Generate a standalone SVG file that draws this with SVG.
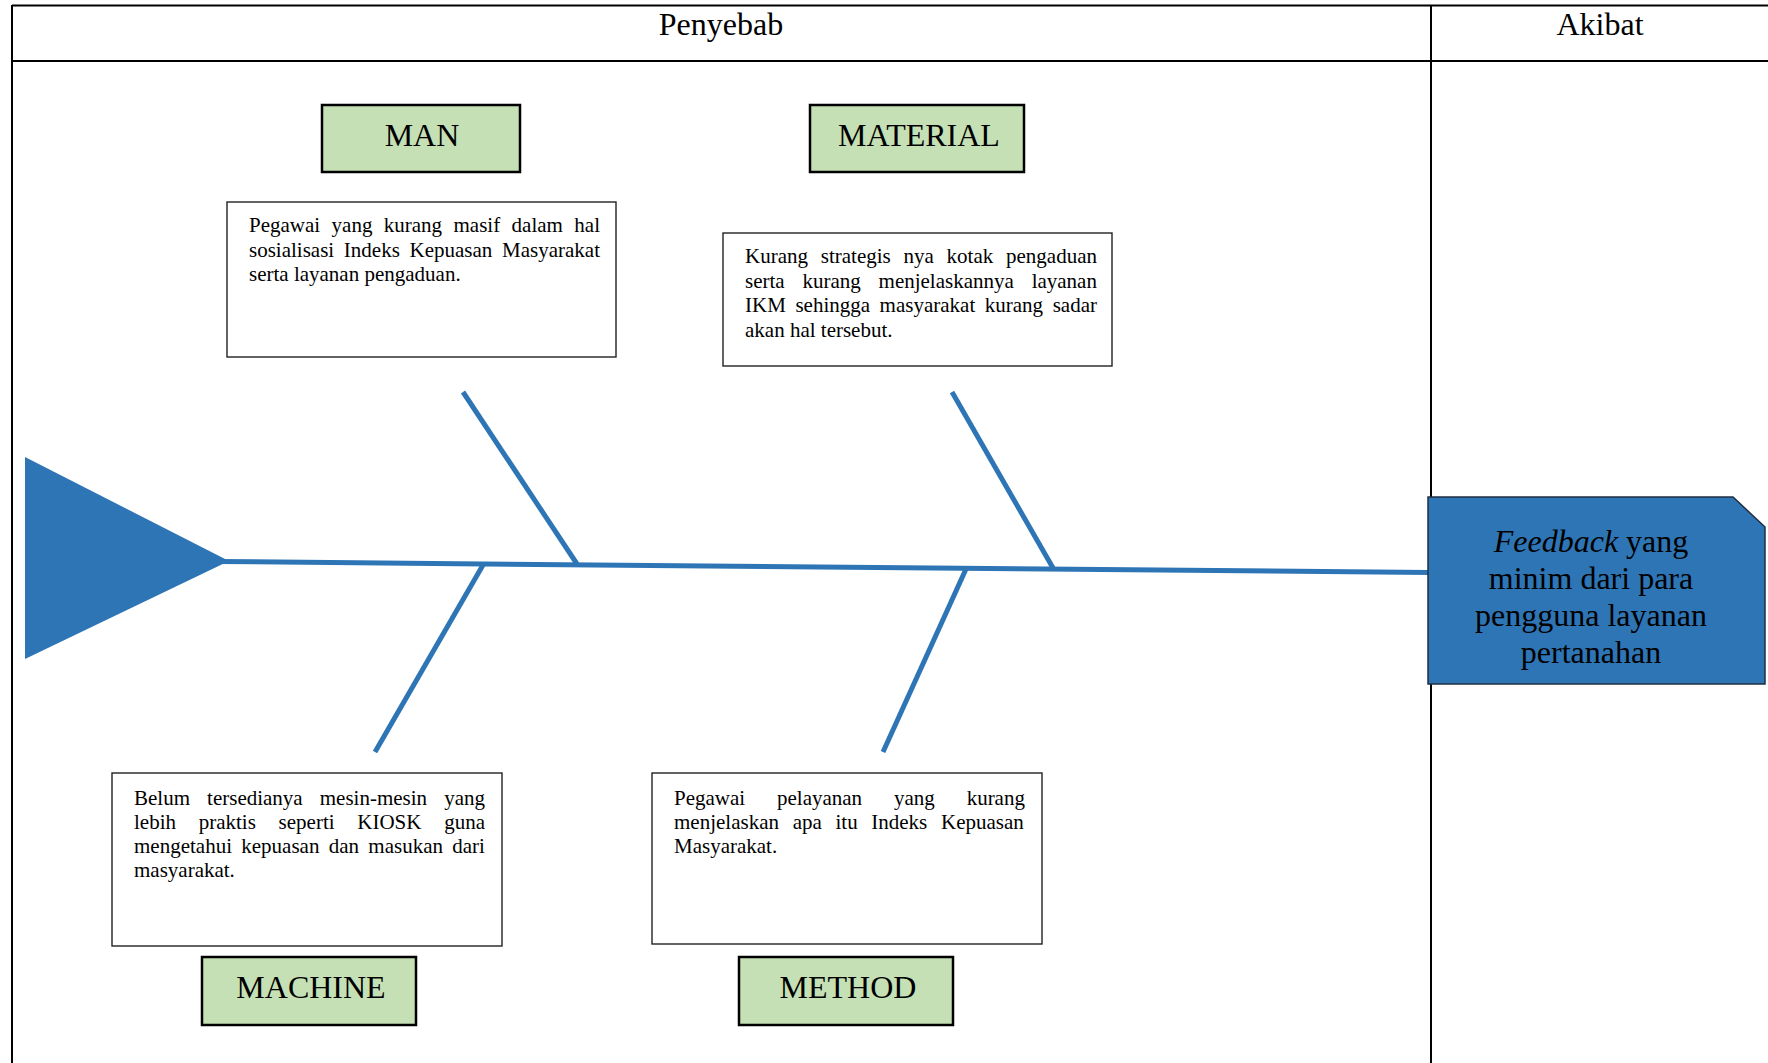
<svg xmlns="http://www.w3.org/2000/svg" width="1768" height="1063" viewBox="0 0 1768 1063">
  <style>
    .tbl { stroke: #000; stroke-width: 2; fill: none; }
    .hdr { font-family: "Liberation Serif", "Times New Roman", serif; font-size: 32px; fill: #000; text-anchor: middle; }
    .cat rect { fill: #C5E0B4; stroke: #000; stroke-width: 2.5; }
    .cat text { font-family: "Liberation Serif", "Times New Roman", serif; font-size: 32px; fill: #000; text-anchor: middle; }
    .cause rect { fill: #fff; stroke: #222; stroke-width: 1.4; }
    .cause text { font-family: "Liberation Serif", "Times New Roman", serif; font-size: 21px; fill: #000; }
    .bone { stroke: #2E75B6; stroke-width: 5; fill: none; }
    .effect polygon { fill: #2E75B6; stroke: #1F2F40; stroke-width: 1.5; }
    .effect text { font-family: "Liberation Serif", "Times New Roman", serif; font-size: 32px; fill: #000; text-anchor: middle; }
  </style>

  <rect width="1768" height="1063" fill="#fff"/>

  <g id="table">
    <line class="tbl" x1="12" y1="5.5" x2="1768" y2="5.5"/>
    <line class="tbl" x1="12" y1="61" x2="1768" y2="61"/>
    <line class="tbl" x1="12" y1="5" x2="12" y2="1063"/>
    <line class="tbl" x1="1431" y1="5" x2="1431" y2="1063"/>
    <text class="hdr" x="721" y="35">Penyebab</text>
    <text class="hdr" x="1600" y="35">Akibat</text>
  </g>

  <g id="connectors">
    <polygon points="25,457 25,659 229,561" fill="#2E75B6"/>
    <line class="bone" x1="218" y1="561.5" x2="1430" y2="572.5"/>
    <line class="bone" x1="463" y1="392" x2="577" y2="564"/>
    <line class="bone" x1="952" y1="392" x2="1053" y2="568"/>
    <line class="bone" x1="483" y1="565" x2="375" y2="752"/>
    <line class="bone" x1="966" y1="569" x2="883" y2="752"/>
  </g>

  <g id="cat-man" class="cat">
    <rect x="322" y="105" width="198" height="67"/>
    <text x="422" y="146">MAN</text>
  </g>
  <g id="cat-material" class="cat">
    <rect x="810" y="105" width="214" height="67"/>
    <text x="919" y="146">MATERIAL</text>
  </g>
  <g id="cat-machine" class="cat">
    <rect x="202" y="957" width="214" height="68"/>
    <text x="311" y="998">MACHINE</text>
  </g>
  <g id="cat-method" class="cat">
    <rect x="739" y="957" width="214" height="68"/>
    <text x="848" y="998">METHOD</text>
  </g>

  <g id="cause-man" class="cause">
    <rect x="227" y="202" width="389" height="155"/>
    <text x="249" y="232" word-spacing="6.17">Pegawai yang kurang masif dalam hal</text>
    <text x="249" y="256.5" word-spacing="4.45">sosialisasi Indeks Kepuasan Masyarakat</text>
    <text x="249" y="281">serta layanan pengaduan.</text>
  </g>

  <g id="cause-material" class="cause">
    <rect x="723" y="233" width="389" height="133"/>
    <text x="745" y="263" word-spacing="7.52">Kurang strategis nya kotak pengaduan</text>
    <text x="745" y="287.5" word-spacing="12.55">serta kurang menjelaskannya layanan</text>
    <text x="745" y="312" word-spacing="4.32">IKM sehingga masyarakat kurang sadar</text>
    <text x="745" y="336.5">akan hal tersebut.</text>
  </g>

  <g id="cause-machine" class="cause">
    <rect x="112" y="773" width="390" height="173"/>
    <text x="134" y="805" word-spacing="11.82">Belum tersedianya mesin-mesin yang</text>
    <text x="134" y="829" word-spacing="17.47">lebih praktis seperti KIOSK guna</text>
    <text x="134" y="853" word-spacing="4.05">mengetahui kepuasan dan masukan dari</text>
    <text x="134" y="877">masyarakat.</text>
  </g>

  <g id="cause-method" class="cause">
    <rect x="652" y="773" width="390" height="171"/>
    <text x="674" y="805" word-spacing="26.6">Pegawai pelayanan yang kurang</text>
    <text x="674" y="829" word-spacing="8.43">menjelaskan apa itu Indeks Kepuasan</text>
    <text x="674" y="853">Masyarakat.</text>
  </g>

  <g id="effect" class="effect">
    <polygon points="1428,497 1733,497 1765,527 1765,684 1428,684"/>
    <text x="1591" y="552"><tspan font-style="italic">Feedback</tspan> yang</text>
    <text x="1591" y="589">minim dari para</text>
    <text x="1591" y="626">pengguna layanan</text>
    <text x="1591" y="663">pertanahan</text>
  </g>
</svg>
